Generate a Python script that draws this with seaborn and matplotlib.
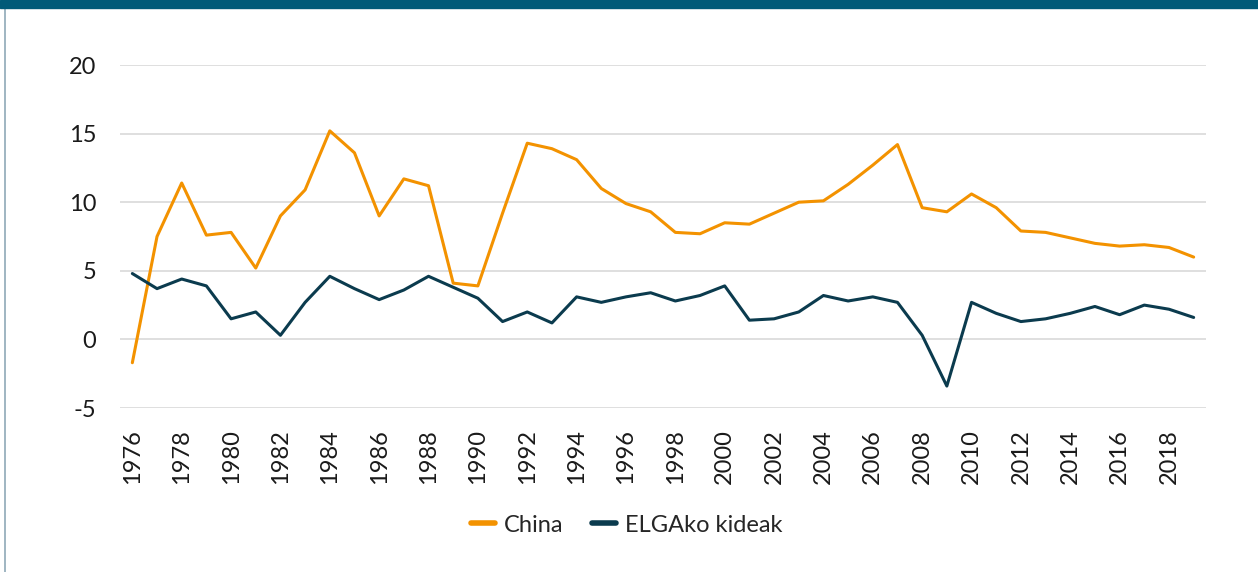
import numpy as np
import pandas as pd
import matplotlib
matplotlib.use("Agg")
import matplotlib.pyplot as plt
from matplotlib.patches import Rectangle
from matplotlib.lines import Line2D
import seaborn as sns

# Data
years = list(range(1976, 2020))
china = [-1.7, 7.5, 11.4, 7.6, 7.8, 5.2, 9.0, 10.9, 15.2, 13.6,
         9.0, 11.7, 11.2, 4.1, 3.9, 9.2, 14.3, 13.9, 13.1, 11.0,
         9.9, 9.3, 7.8, 7.7, 8.5, 8.4, 9.2, 10.0, 10.1, 11.3,
         12.7, 14.2, 9.6, 9.3, 10.6, 9.6, 7.9, 7.8, 7.4, 7.0,
         6.8, 6.9, 6.7, 6.0]
elga = [4.8, 3.7, 4.4, 3.9, 1.5, 2.0, 0.3, 2.7, 4.6, 3.7,
        2.9, 3.6, 4.6, 3.8, 3.0, 1.3, 2.0, 1.2, 3.1, 2.7,
        3.1, 3.4, 2.8, 3.2, 3.9, 1.4, 1.5, 2.0, 3.2, 2.8,
        3.1, 2.7, 0.3, -3.4, 2.7, 1.9, 1.3, 1.5, 1.9, 2.4,
        1.8, 2.5, 2.2, 1.6]
series_names = ["China", "ELGAko kideak"]
colors = ["#F39200", "#0B3B4E"]
y_ticks = [-5, 0, 5, 10, 15, 20]

df = pd.DataFrame({"year": years * 2,
                   "value": china + elga,
                   "series": [series_names[0]] * len(years) + [series_names[1]] * len(years)})

sns.set_theme(style="white")
plt.rcParams['font.family'] = ['Lato', 'DejaVu Sans']

fig = plt.figure(figsize=(12.58, 5.72), dpi=100)
ax = fig.add_axes([120 / 1258, 1 - 408 / 572, (1206 - 120) / 1258, (408 - 65) / 572])

sns.lineplot(data=df, x="year", y="value", hue="series", palette=colors,
             linewidth=2.2, ax=ax, legend=False)

ax.set_xlim(years[0] - 0.5, years[-1] + 0.5)
ax.set_ylim(-5, 20)
ax.set_yticks(y_ticks)
ax.set_yticklabels([str(t) for t in y_ticks], fontsize=17, color="#1a1a1a")
ax.set_xticks(years[::2])
ax.set_xticklabels([str(y) for y in years[::2]], rotation=90, fontsize=17, color="#1a1a1a")
ax.tick_params(axis="y", length=0, pad=17)
ax.tick_params(axis="x", length=0, pad=15)
ax.yaxis.grid(True, color="#d9d9d9", linewidth=1.2)
ax.xaxis.grid(False)
for s in ax.spines.values():
    s.set_visible(False)
ax.set_xlabel("")
ax.set_ylabel("")

handles = [Line2D([0], [0], color=c, linewidth=4, solid_capstyle="round") for c in colors]
fig.legend(handles, series_names, loc="center", bbox_to_anchor=(627 / 1258, 1 - 525 / 572),
           ncol=2, frameon=False, fontsize=17, handlelength=1.0, columnspacing=1.2,
           handletextpad=0.4)

# top band and left frame
fig.add_artist(Rectangle((0, 1 - 8 / 572), 1, 8 / 572, transform=fig.transFigure,
                         color="#005A78", zorder=5))
fig.add_artist(Line2D([5 / 1258, 5 / 1258], [0, 1], transform=fig.transFigure,
                      color="#8fa9b8", linewidth=1.2))

fig.savefig("out.png", dpi=100)
